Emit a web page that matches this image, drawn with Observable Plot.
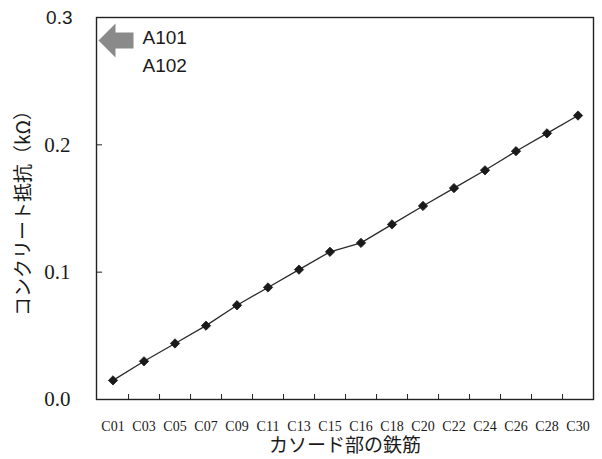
<!DOCTYPE html>
<html>
<head>
<meta charset="utf-8">
<script src="https://cdn.jsdelivr.net/npm/d3@7"></script>
<script src="https://cdn.jsdelivr.net/npm/@observablehq/plot@0.6"></script>
<style>
  html, body { margin: 0; padding: 0; background: #fff; }
  svg { display: block; }
</style>
</head>
<body>
<div id="chart"></div>
<script>
const categories = ["C01","C03","C05","C07","C09","C11","C13","C15","C16","C18","C20","C22","C24","C26","C28","C30"];
const resistance = [0.015,0.030,0.044,0.058,0.074,0.088,0.102,0.116,0.123,0.1375,0.152,0.166,0.180,0.195,0.209,0.223];
const yTicksSerif = [0.0, 0.1, 0.2];
const yTicksSans = [0.3];
const offChart = ["A101", "A102"];

const data = categories.map((c, i) => ({cat: c, value: resistance[i]}));

// block arrow pointing left (custom symbol)
const blockArrow = {
  draw(ctx, size) {
    const r = Math.sqrt(size / Math.PI);
    const s = r / 17;
    ctx.moveTo(-17 * s, 0);
    ctx.lineTo(0, -17 * s);
    ctx.lineTo(0, -8 * s);
    ctx.lineTo(18 * s, -8 * s);
    ctx.lineTo(18 * s, 8 * s);
    ctx.lineTo(0, 8 * s);
    ctx.lineTo(0, 17 * s);
    ctx.closePath();
  }
};

const chart = Plot.plot({
  width: 602,
  height: 459,
  marginLeft: 96,
  marginRight: 9,
  marginTop: 17,
  marginBottom: 60,
  style: {background: "#fff", color: "#1a1a1a"},
  x: {type: "band", domain: categories, padding: 0, label: null},
  y: {domain: [0, 0.3], label: null},
  marks: [
    Plot.frame({stroke: "#222", strokeWidth: 1.4}),
    Plot.axisY({ticks: [0.1, 0.2], tickSize: -6, text: null, label: null, stroke: "#222"}),
    Plot.axisX({ticks: categories.slice(0, -1), tickSize: -5, text: null, label: null, dx: 497 / 16 / 2, stroke: "#222"}),
    Plot.axisY({ticks: yTicksSerif, tickSize: 0, tickPadding: 26, tickFormat: d3.format(".1f"),
      fontFamily: "Liberation Serif", fontSize: 21,
      label: "コンクリート抵抗（kΩ）", labelAnchor: "center", labelOffset: 80, labelArrow: "none"}),
    Plot.axisY({ticks: yTicksSans, tickSize: 0, tickPadding: 24, tickFormat: d3.format(".1f"),
      fontFamily: "Liberation Sans", fontSize: 19, label: null}),
    Plot.axisX({tickSize: 0, tickPadding: 22, fontFamily: "Liberation Serif", fontSize: 14,
      label: "カソード部の鉄筋", labelAnchor: "center", labelOffset: 52, labelArrow: "none"}),
    Plot.line(data, {x: "cat", y: "value", stroke: "#2a2a2a", strokeWidth: 1.3}),
    Plot.dot(data, {x: "cat", y: "value", symbol: "diamond2", r: 4.2, fill: "#1a1a1a", stroke: "#1a1a1a", strokeWidth: 0.8}),
    Plot.dot([0], {frameAnchor: "top-left", dx: 19, dy: 23, symbol: blockArrow, r: 17, fill: "#8a8a8a"}),
    Plot.text([offChart.join("\n")], {frameAnchor: "top-left", dx: 46, dy: 7, textAnchor: "start", lineAnchor: "top",
      lineHeight: 1.45, fontFamily: "Liberation Sans", fontSize: 19, fill: "#1a1a1a"})
  ]
});

// CJK font for the axis titles
chart.querySelectorAll("text").forEach(t => {
  const s = t.textContent.trim();
  if (/[\u3040-\u9fff]/.test(s)) {
    t.style.fontFamily = "'Noto Sans CJK JP', sans-serif";
    t.style.fontSize = "19px";
  }
});
document.getElementById("chart").append(chart);
</script>
</body>
</html>
